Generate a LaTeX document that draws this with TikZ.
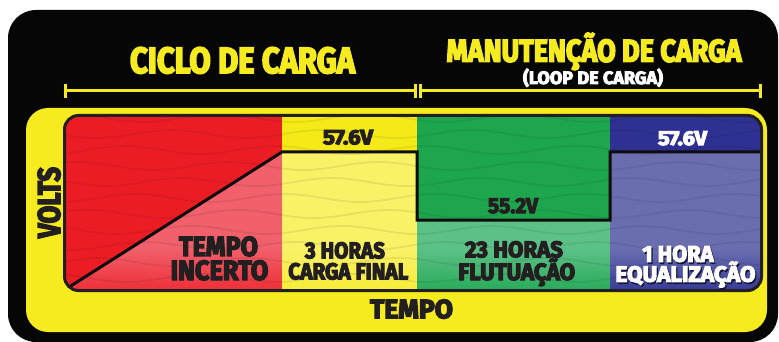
\documentclass[tikz,border=0pt]{standalone}
\usepackage{fontspec}
\usepackage{graphicx}
\newfontfamily\hf{Fira Sans}[FakeBold=5]
\definecolor{bgblack}{HTML}{060606}
\definecolor{ylw}{HTML}{F5EB1E}
\definecolor{ink}{HTML}{231F20}
\definecolor{redD}{HTML}{EC1C24}
\definecolor{redL}{HTML}{F1606B}
\definecolor{ylwD}{HTML}{F5EA17}
\definecolor{ylwL}{HTML}{F9F166}
\definecolor{grnD}{HTML}{1EA64F}
\definecolor{grnL}{HTML}{5CC186}
\definecolor{bluD}{HTML}{2E3192}
\definecolor{bluL}{HTML}{6A6EAF}
\definecolor{shadowc}{HTML}{15163F}
\newcommand\fittxt[3]{\fontsize{#1}{#1}\selectfont\resizebox{#2pt}{\height}{#3}}
\newcommand\shadtxt[1]{\makebox[0pt][l]{\kern1.2pt\raisebox{-1.8pt}{\color{shadowc}#1}}#1}
\begin{document}
\begin{tikzpicture}[x=1pt,y=-1pt,
  lbl/.style={inner sep=0pt,outer sep=0pt,anchor=base,font=\hf\bfseries},
  bracket/.style={draw=ylw,line width=3pt},
  wave/.style={draw=black,opacity=0.07,line width=1.8pt},
  vline/.style={draw=black!95,line width=3pt,line join=miter}]
\useasboundingbox (0,0) rectangle (779,342);
\fill[white] (0,0) rectangle (779,342);
\fill[bgblack,rounded corners=28pt] (8,10) rectangle (778,342);
\fill[ylw,rounded corners=22pt] (26,108) rectangle (767,332);

% panel
\begin{scope}
\clip[rounded corners=14pt] (64.5,115.5) rectangle (761.5,290.5);
\fill[redD] (55,110) rectangle (282,296);
\fill[ylwD] (282,110) rectangle (417,296);
\fill[grnD] (417,110) rectangle (610,296);
\fill[bluD] (610,110) rectangle (770,296);
% lower light parts
\begin{scope}
\clip (55,296) -- (282,152) -- (282,296) -- cycle;
\fill[redL] (55,150) rectangle (282,296);
\shade[top color=redL, bottom color=redD!75!redL] (55,248) rectangle (282,292);
\end{scope}
\fill[ylwL] (282,152) rectangle (417,296);
\shade[top color=ylwL, bottom color=ylwD!60!ylwL] (282,250) rectangle (417,292);
\fill[grnL] (417,220) rectangle (610,296);
\shade[top color=grnL, bottom color=grnD!85!grnL] (417,248) rectangle (610,292);
\fill[bluL] (610,152) rectangle (770,296);
\shade[top color=bluL, bottom color=bluD!85!bluL] (610,248) rectangle (770,292);
% texture
\foreach \yy in {118,134,...,294}
  \draw[wave] plot[domain=60:765,samples=90,smooth] (\x,{\yy+4*sin(\x*2.4+\yy*7)});
% voltage line
\coordinate (v0) at (55,296);
\coordinate (v1) at (282,152);
\coordinate (v2) at (417,152);
\coordinate (v3) at (417,220);
\coordinate (v4) at (610,220);
\coordinate (v5) at (610,152);
\coordinate (v6) at (770,152);
\draw[vline] (v0) -- (v1) -- (v2) -- (v3) -- (v4) -- (v5) -- (v6);
\end{scope}
\draw[ink,line width=3pt,rounded corners=14pt] (64.5,115.5) rectangle (761.5,290.5);

% brackets
\coordinate (b1l) at (65,91);
\coordinate (b1r) at (415,91);
\coordinate (b2l) at (420,91);
\coordinate (b2r) at (760,91);
\draw[bracket] (b1l) -- (b1r);
\draw[bracket] (b2l) -- (b2r);
\foreach \c in {b1l,b1r,b2l,b2r}
  \draw[bracket] (\c) ++(0,-7) -- ++(0,14);

% titles
\node[lbl,text=ylw] (ciclo) at (242.5,73) {\fittxt{36.3}{225}{CICLO DE CARGA}};
\node[lbl,text=ylw] (manut) at (594,61.7) {\fittxt{31.5}{295}{MANUTENÇÃO DE CARGA}};
\node[lbl,text=white] (loop) at (593,84) {\fittxt{17.9}{140}{(LOOP DE CARGA)}};

% voltages
\node[lbl,text=ink] (v576a) at (348,144.3) {\fittxt{20.8}{50}{57.6V}};
\node[lbl,text=white] (v576b) at (682.5,145) {\fittxt{20}{49}{57.6V}};
\node[lbl,text=ink] (v552) at (513,213) {\fittxt{21.5}{50}{55.2V}};

% phase labels
\node[lbl,text=ink] (tempo1) at (218.5,256) {\fittxt{27.6}{79}{TEMPO}};
\node[lbl,text=ink] (incerto) at (219.5,280) {\fittxt{27.8}{97.6}{INCERTO}};
\node[lbl,text=ink] (horas3) at (345,258.3) {\fittxt{22.8}{80}{3 HORAS}};
\node[lbl,text=ink] (cfinal) at (348.3,279.3) {\fittxt{23}{120}{CARGA FINAL}};
\node[lbl,text=ink] (horas23) at (514,257.3) {\fittxt{22.8}{98}{23 HORAS}};
\node[lbl,text=ink] (flut) at (516.7,280) {\fittxt{23.5}{116.7}{FLUTUAÇÃO}};
\node[lbl,text=white] (hora1) at (678,261.7) {\fittxt{22.5}{71}{\shadtxt{1 HORA}}};
\node[lbl,text=white] (equal) at (685.5,281.7) {\fittxt{22}{140}{\shadtxt{EQUALIZAÇÃO}}};

% axes
\node[lbl,text=ink,rotate=90] (volts) at (60,202.5) {\fittxt{31.5}{71}{VOLTS}};
\node[lbl,text=ink] (tempo) at (411.5,318.3) {\fittxt{26.6}{83}{TEMPO}};
\end{tikzpicture}
\end{document}
